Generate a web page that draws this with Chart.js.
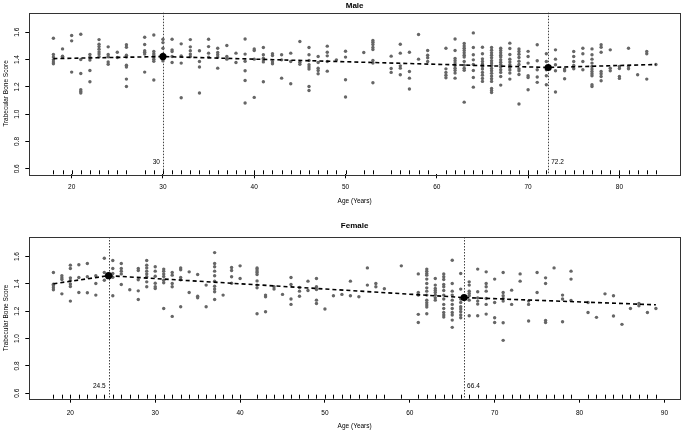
<!DOCTYPE html>
<html>
<head>
<meta charset="utf-8">
<script src="https://cdn.jsdelivr.net/npm/chart.js@4"></script>
<style>
  body { margin: 0; background: #fff; }
  canvas { display: block; }
</style>
</head>
<body>
<canvas id="maleChart" width="684" height="215"></canvas>
<canvas id="femaleChart" width="684" height="215"></canvas>
<script>
// ---- data: one column of scores per age ----
const maleAges = [18,19,20,21,22,23,24,25,26,28,29,30,31,32,33,34,35,36,37,38,39,40,41,42,43,44,45,46,47,48,49,50,52,53,55,56,57,58,59,61,62,63,64,65,66,67,68,69,70,71,72,73,74,75,76,77,78,79,80,81,82,83,84];
const maleScores = [
  [1.556,1.437,1.418,1.398,1.383,1.369],
  [1.478,1.425,1.420],
  [1.576,1.537,1.308],
  [1.585,1.400,1.298,1.179,1.167,1.155],
  [1.437,1.418,1.396,1.320,1.237],
  [1.546,1.512,1.495,1.476,1.456,1.440,1.420],
  [1.493,1.437,1.420,1.383,1.366],
  [1.454,1.415],
  [1.508,1.490,1.432,1.418,1.359,1.345,1.257,1.203],
  [1.563,1.510,1.464,1.454,1.440,1.308],
  [1.580,1.459,1.442,1.430,1.418,1.403,1.388,1.250],
  [1.549,1.524,1.483,1.440,1.400,1.390],
  [1.549,1.471,1.459,1.422,1.378],
  [1.515,1.427,1.374,1.120],
  [1.546,1.493,1.464,1.440,1.422],
  [1.464,1.386,1.345,1.155],
  [1.549,1.495,1.447,1.418],
  [1.483,1.452,1.435,1.418,1.337],
  [1.503,1.422,1.403],
  [1.447,1.378],
  [1.551,1.440,1.388,1.318,1.247,1.082],
  [1.478,1.466,1.403,1.123],
  [1.488,1.435,1.410,1.398,1.383,1.237],
  [1.442,1.430,1.383,1.369],
  [1.435,1.398,1.264],
  [1.447,1.386,1.223],
  [1.532,1.381,1.366],
  [1.488,1.435,1.393,1.362,1.345,1.330,1.203,1.174],
  [1.422,1.378,1.337,1.320,1.296],
  [1.498,1.454,1.427,1.386,1.315],
  [1.398],
  [1.461,1.418,1.252,1.126],
  [1.452],
  [1.540,1.527,1.510,1.488,1.473,1.393,1.374,1.230],
  [1.425,1.335,1.306],
  [1.512,1.447,1.354,1.337,1.289],
  [1.454,1.313,1.264,1.184],
  [1.583,1.403],
  [1.466,1.432,1.413,1.386],
  [1.483,1.332,1.306,1.286,1.267],
  [1.551,1.466,1.408,1.391,1.374,1.357,1.337,1.320,1.301,1.264],
  [1.517,1.500,1.483,1.466,1.449,1.432,1.418,1.386,1.359,1.337,1.322,1.088],
  [1.595,1.488,1.435,1.398,1.364,1.320,1.269,1.198],
  [1.490,1.442,1.405,1.386,1.367,1.350,1.330,1.306,1.286,1.262,1.240],
  [1.488,1.468,1.449,1.432,1.413,1.391,1.374,1.357,1.335,1.318,1.299,1.279,1.260,1.240,1.189,1.174,1.159],
  [1.483,1.466,1.449,1.432,1.418,1.398,1.381,1.364,1.345,1.325,1.306,1.276,1.213],
  [1.520,1.481,1.437,1.403,1.383,1.362,1.342,1.323,1.301,1.257],
  [1.478,1.459,1.439,1.415,1.388,1.364,1.332,1.318,1.291,1.075],
  [1.460,1.422,1.374,1.281,1.269,1.179],
  [1.508,1.391,1.325,1.272,1.233],
  [1.442,1.386,1.325,1.281,1.216],
  [1.471,1.403,1.362,1.318,1.162],
  [1.330,1.318,1.260],
  [1.459,1.422,1.386,1.357,1.333],
  [1.483,1.442,1.386,1.325],
  [1.478,1.435,1.403,1.374,1.349,1.330,1.313,1.296,1.281,1.216,1.203],
  [1.508,1.490,1.454,1.313,1.296,1.276,1.245],
  [1.471,1.337,1.318],
  [1.349,1.335,1.276,1.262],
  [1.483,1.349,1.333],
  [1.289],
  [1.459,1.442,1.257],
  [1.364]
];
const maleBreaks = [30, 72.2];
const maleBreakScores = [1.422, 1.342];
const maleFitAges = [18, 30, 72.2, 84];
const maleFitScores = [1.407, 1.422, 1.342, 1.364];
const maleXTicks = [20, 30, 40, 50, 60, 70, 80];

const femaleAges = [18,19,20,21,22,23,24,25,26,27,28,29,30,31,32,33,34,35,36,37,38,39,40,42,43,44,45,46,47,48,49,50,51,52,53,54,55,56,57,59,61,62,63,64,65,66,67,68,69,70,71,72,73,74,75,76,77,78,79,81,82,83,84,85,86,87,88,89];
const femaleScores = [
  [1.483,1.398,1.386,1.371,1.357],
  [1.459,1.444,1.432,1.327],
  [1.537,1.512,1.444,1.425,1.400,1.381,1.274],
  [1.540,1.447,1.337],
  [1.549,1.452,1.335],
  [1.459,1.403,1.318],
  [1.588,1.483,1.427],
  [1.571,1.512,1.476,1.449,1.313],
  [1.549,1.512,1.493,1.473,1.396],
  [1.357],
  [1.512,1.498,1.430,1.349,1.286],
  [1.571,1.537,1.517,1.493,1.473,1.452,1.415,1.379],
  [1.525,1.493,1.456,1.405,1.379,1.366],
  [1.508,1.493,1.473,1.454,1.427,1.408,1.220],
  [1.483,1.464,1.403,1.379,1.162],
  [1.517,1.503,1.447,1.430,1.233],
  [1.488,1.337],
  [1.469,1.310,1.298],
  [1.391,1.233],
  [1.629,1.549,1.525,1.493,1.459,1.420,1.383,1.362,1.342,1.286],
  [1.318],
  [1.520,1.498,1.452,1.405],
  [1.532,1.439],
  [1.517,1.508,1.495,1.483,1.469,1.422,1.391,1.371,1.181],
  [1.318,1.306,1.196],
  [1.379,1.362],
  [1.323],
  [1.447,1.396,1.289,1.250],
  [1.374,1.347,1.310],
  [1.420,1.352],
  [1.439,1.379,1.359,1.281,1.257],
  [1.216],
  [1.313],
  [1.323],
  [1.420,1.313],
  [1.306],
  [1.517,1.391],
  [1.403,1.379],
  [1.364],
  [1.532],
  [1.473,1.337,1.318,1.177,1.118],
  [1.508,1.493,1.476,1.464,1.435,1.403,1.371,1.347,1.318,1.281,1.262,1.245,1.230,1.181],
  [1.439,1.391,1.366,1.352,1.337,1.318,1.298,1.281],
  [1.473,1.452,1.432,1.396,1.379,1.352,1.318,1.289,1.250,1.220,1.191,1.172,1.157],
  [1.573,1.403,1.347,1.318,1.281,1.250,1.220,1.191,1.172,1.135,1.082],
  [1.476,1.362,1.289,1.264,1.233,1.216,1.196,1.172,1.152],
  [1.415,1.391,1.347,1.330,1.313,1.281,1.167],
  [1.508,1.342,1.298,1.274,1.252,1.167],
  [1.488,1.403,1.379,1.347,1.293,1.250,1.179],
  [1.435,1.264,1.152,1.118],
  [1.483,1.337,1.313,1.293,1.274,1.116,0.987],
  [1.354,1.250],
  [1.473,1.420],
  [1.274,1.250,1.128],
  [1.483,1.337],
  [1.444,1.403,1.133,1.118],
  [1.517],
  [1.318,1.289,1.123],
  [1.493,1.435,1.279],
  [1.264,1.191],
  [1.155],
  [1.327],
  [1.313,1.165],
  [1.104],
  [1.220],
  [1.257,1.240],
  [1.191],
  [1.220]
];
const femaleBreaks = [24.5, 66.4];
const femaleBreakScores = [1.46, 1.30];
const femaleFitAges = [18, 24.5, 66.4, 89];
const femaleFitScores = [1.401, 1.460, 1.300, 1.247];
const femaleXTicks = [20, 30, 40, 50, 60, 70, 80, 90];

const yTicks = [0.6, 0.8, 1.0, 1.2, 1.4, 1.6];

const FONT = '"Liberation Sans", Arial, sans-serif';
Chart.defaults.font.family = FONT;
Chart.defaults.color = '#000';

// box round the plot, rug at the bottom, dotted lines at the breakpoints,
// y labels turned on their side like R does
const extras = {
  id: 'extras',
  beforeDatasetsDraw(chart, args, opts) {
    const {ctx, chartArea: a, scales: {x}} = chart;
    ctx.save();
    ctx.strokeStyle = '#444';
    ctx.lineWidth = 1;
    ctx.setLineDash([1.5, 1.5]);
    opts.breaks.forEach(b => {
      const px = Math.round(x.getPixelForValue(b)) + 0.5;
      ctx.beginPath();
      ctx.moveTo(px, a.top);
      ctx.lineTo(px, a.bottom);
      ctx.stroke();
    });
    ctx.restore();
  },
  afterDraw(chart, args, opts) {
    const {ctx, chartArea: a, scales: {x, y}} = chart;
    ctx.save();
    // rug
    ctx.strokeStyle = '#000';
    ctx.lineWidth = 1;
    opts.rug.forEach(age => {
      const px = Math.round(x.getPixelForValue(age)) + 0.5;
      ctx.beginPath();
      ctx.moveTo(px, a.bottom);
      ctx.lineTo(px, a.bottom - 4);
      ctx.stroke();
    });
    // box
    ctx.strokeStyle = '#333';
    ctx.strokeRect(Math.round(a.left) + 0.5, Math.round(a.top) + 0.5,
      Math.round(a.right - a.left), Math.round(a.bottom - a.top));
    // y tick labels, rotated
    ctx.fillStyle = '#000';
    ctx.font = '6.5px ' + FONT;
    ctx.textAlign = 'center';
    ctx.textBaseline = 'middle';
    yTicks.forEach(v => {
      ctx.save();
      ctx.translate(a.left - 12, y.getPixelForValue(v));
      ctx.rotate(-Math.PI / 2);
      ctx.fillText(v.toFixed(1), 0, 0);
      ctx.restore();
    });
    // breakpoint labels
    const ly = y.getPixelForValue(0.65);
    opts.breaks.forEach((b, i) => {
      const px = x.getPixelForValue(b);
      if (i === 0) {
        ctx.textAlign = 'right';
        ctx.fillText(String(b), px - 3, ly);
      } else {
        ctx.textAlign = 'left';
        ctx.fillText(String(b), px + 3, ly);
      }
    });
    ctx.restore();
  }
};

function makeChart(id, p) {
  const points = [];
  p.ages.forEach((age, i) => {
    p.scores[i].forEach(s => points.push({x: age, y: s}));
  });

  return new Chart(document.getElementById(id), {
    type: 'scatter',
    data: {
      datasets: [
        {
          data: p.breaks.map((b, i) => ({x: b, y: p.breakScores[i]})),
          backgroundColor: '#000',
          borderWidth: 0,
          pointRadius: 3.6,
          order: 1
        },
        {
          type: 'line',
          data: p.fitAges.map((a, i) => ({x: a, y: p.fitScores[i]})),
          borderColor: '#000',
          borderWidth: 1.6,
          borderDash: [4, 3],
          pointRadius: 0,
          fill: false,
          order: 2
        },
        {
          data: points,
          backgroundColor: '#666',
          borderWidth: 0,
          pointRadius: 1.7,
          order: 3
        }
      ]
    },
    options: {
      responsive: false,
      animation: false,
      events: [],
      layout: {padding: {left: 0, right: p.padRight, top: 0, bottom: 0}},
      plugins: {
        legend: {display: false},
        tooltip: {enabled: false},
        title: {
          display: true,
          text: p.title,
          fullSize: false,
          font: {size: 8, weight: 'bold'},
          padding: p.titlePad
        },
        extras: {breaks: p.breaks, rug: p.ages}
      },
      scales: {
        x: {
          type: 'linear',
          min: p.xMin,
          max: p.xMax,
          afterBuildTicks: s => { s.ticks = p.xTicks.map(v => ({value: v})); },
          afterFit: s => { s.height = p.xHeight; },
          grid: {drawOnChartArea: false, drawTicks: true, tickLength: 4, color: '#000'},
          border: {display: false},
          ticks: {font: {size: 6.5}, padding: p.tickPad, maxRotation: 0},
          title: {display: true, text: 'Age (Years)', font: {size: 6.5}, padding: {top: 0, bottom: p.xTitlePad}}
        },
        y: {
          min: 0.56,
          max: 1.743,
          afterBuildTicks: s => { s.ticks = yTicks.map(v => ({value: v})); },
          afterFit: s => { s.width = 29.3; },
          grid: {drawOnChartArea: false, drawTicks: true, tickLength: 4, color: '#000'},
          border: {display: false},
          ticks: {display: false},
          title: {display: true, text: 'Trabecular Bone Score', font: {size: 6.5}, padding: {top: 2, bottom: 0}}
        }
      }
    },
    plugins: [extras]
  });
}

makeChart('maleChart', {
  title: 'Male',
  ages: maleAges, scores: maleScores,
  breaks: maleBreaks, breakScores: maleBreakScores,
  fitAges: maleFitAges, fitScores: maleFitScores,
  xTicks: maleXTicks, xMin: 15.36, xMax: 86.64,
  padRight: 1.7, titlePad: {top: 1, bottom: 2.1},
  xHeight: 40.7, tickPad: 5, xTitlePad: 10
});

makeChart('femaleChart', {
  title: 'Female',
  ages: femaleAges, scores: femaleScores,
  breaks: femaleBreaks, breakScores: femaleBreakScores,
  fitAges: femaleFitAges, fitScores: femaleFitScores,
  xTicks: femaleXTicks, xMin: 15.16, xMax: 91.84,
  padRight: 1, titlePad: {top: 6, bottom: 6.4},
  xHeight: 31.3, tickPad: 6.5, xTitlePad: 0
});
</script>
</body>
</html>
